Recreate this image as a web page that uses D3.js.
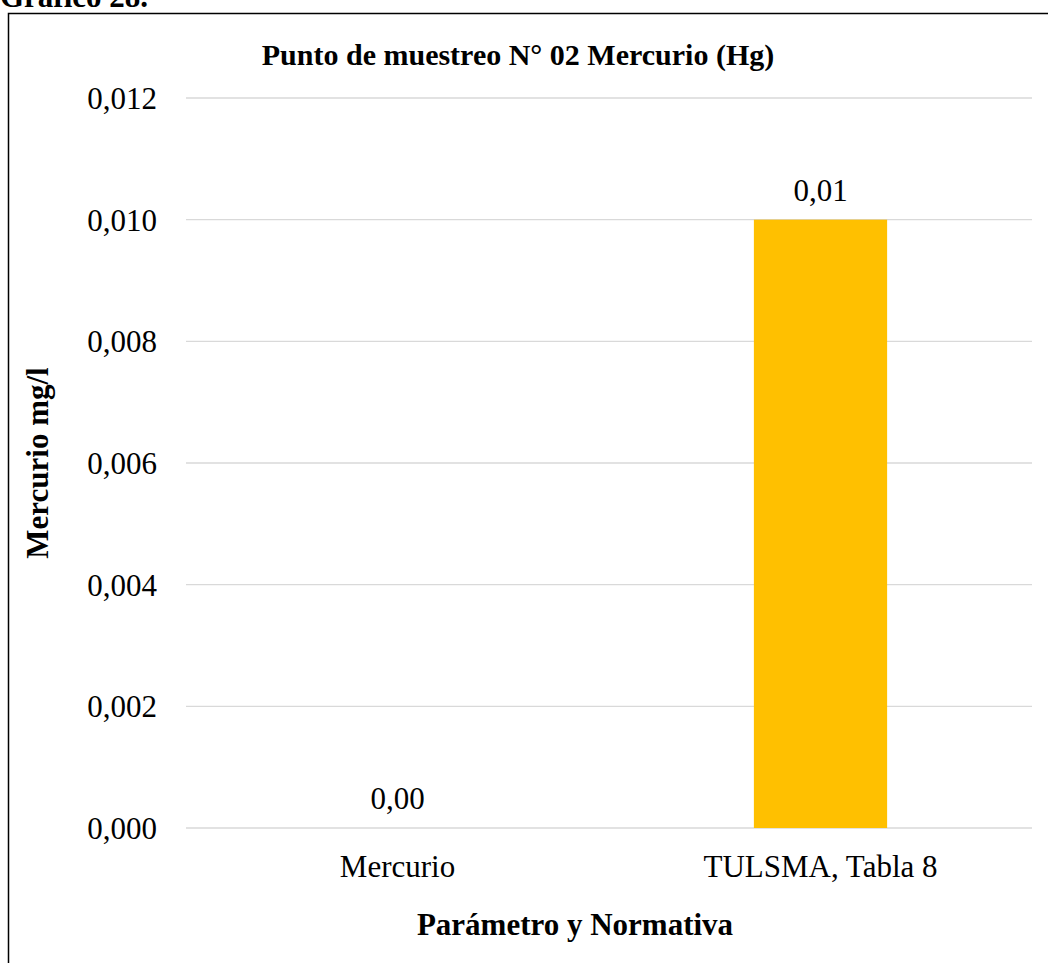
<!DOCTYPE html>
<html><head><meta charset="utf-8">
<script src="https://cdn.jsdelivr.net/npm/d3@7"></script>
<style>body{margin:0;background:#fff;overflow:hidden}svg{display:block}</style>
</head><body>
<script>
const categories = ["Mercurio", "TULSMA, Tabla 8"];
const values = [0.0, 0.01];
const valueLabels = ["0,00", "0,01"];
const yTicks = [0, 0.002, 0.004, 0.006, 0.008, 0.010, 0.012];
const title = "Punto de muestreo N° 02 Mercurio (Hg)";
const xTitle = "Parámetro y Normativa";
const yTitle = "Mercurio mg/l";
const caption = "Gráfico 28.";

const W = 1048, H = 963;
const svg = d3.select("body").append("svg").attr("width", W).attr("height", H);
const font = "'Liberation Serif','Times New Roman',serif";

svg.append("text").attr("x", 0).attr("y", 7).attr("font-family", font).attr("font-weight", "bold")
  .attr("font-size", 31).text(caption);

svg.append("rect").attr("x", 8.5).attr("y", 13.5).attr("width", 1050).attr("height", 970)
  .attr("fill", "none").attr("stroke", "#000").attr("stroke-width", 1.5);

const x = d3.scaleBand().domain(categories).range([186, 1032]).padding(0);
const y = d3.scaleLinear().domain([0, 0.012]).range([828, 98]);
const fmt = d => d3.format(".3f")(d).replace(".", ",");

const g = svg.append("g");
g.selectAll("line.grid").data(yTicks).join("line").attr("class", "grid")
  .attr("x1", 186).attr("x2", 1032).attr("y1", d => y(d)).attr("y2", d => y(d))
  .attr("stroke", "#d9d9d9").attr("stroke-width", 1.3);

g.selectAll("text.ytick").data(yTicks).join("text").attr("class", "ytick")
  .attr("x", 157).attr("y", d => y(d)).attr("dy", "0.35em").attr("text-anchor", "end")
  .attr("font-family", font).attr("font-size", 31).text(fmt);

const bw = x.bandwidth() * 0.315;
g.selectAll("rect.bar").data(values).join("rect").attr("class", "bar")
  .attr("x", (d, i) => x(categories[i]) + x.bandwidth() / 2 - bw / 2)
  .attr("width", bw)
  .attr("y", d => y(d)).attr("height", d => y(0) - y(d)).attr("fill", "#FFC000");

g.selectAll("text.vlab").data(values).join("text").attr("class", "vlab")
  .attr("x", (d, i) => x(categories[i]) + x.bandwidth() / 2)
  .attr("y", d => y(d) - 19).attr("text-anchor", "middle")
  .attr("font-family", font).attr("font-size", 31).text((d, i) => valueLabels[i]);

g.selectAll("text.xtick").data(categories).join("text").attr("class", "xtick")
  .attr("x", d => x(d) + x.bandwidth() / 2).attr("y", 877).attr("text-anchor", "middle")
  .attr("font-family", font).attr("font-size", 31).text(d => d);

svg.append("text").attr("x", 518).attr("y", 65).attr("text-anchor", "middle")
  .attr("font-family", font).attr("font-weight", "bold").attr("font-size", 30).text(title);

svg.append("text").attr("x", 575).attr("y", 935).attr("text-anchor", "middle")
  .attr("font-family", font).attr("font-weight", "bold").attr("font-size", 31).text(xTitle);

svg.append("text").attr("transform", "translate(48,463) rotate(-90)").attr("text-anchor", "middle")
  .attr("font-family", font).attr("font-weight", "bold").attr("font-size", 31).text(yTitle);
</script>
</body></html>
